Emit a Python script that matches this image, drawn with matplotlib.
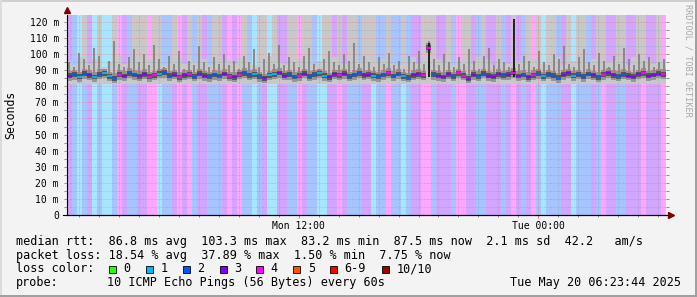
import matplotlib
matplotlib.use('Agg')
import matplotlib.pyplot as plt
from matplotlib.patches import Rectangle
from matplotlib.colors import to_rgb

plt.rcParams['font.family'] = ['DejaVu Sans Mono']

# time axis in hours since Mon 00:00, graph covers Mon 00:23:44 .. Tue 06:23:44
start_hour = 0.3956
step_hours = 0.25

# lost pings (out of 10) for each 15 min step
loss = [3, 2, 1, 2, 3, 1, 2, 1, 1, 2, 4, 3, 2, 2, 3, 3, 4, 4, 1, 2, 2, 3, 4, 3, 4, 2, 3, 3, 2, 2,
        2, 3, 4, 3, 4, 2, 2, 1, 2, 3, 1, 1, 3, 3, 2, 2, 4, 3, 2, 2, 1, 1, 3, 3, 4, 3, 2, 2, 2, 3,
        3, 1, 2, 2, 4, 2, 2, 1, 2, 3, 3, 4, 4, 2, 3, 3, 3, 2, 4, 4, 3, 3, 2, 2, 3, 3, 3, 2, 3, 4,
        3, 2, 3, 4, 2, 1, 2, 2, 2, 3, 3, 1, 2, 2, 2, 3, 2, 4, 3, 3, 2, 2, 3, 3, 3, 4, 3, 3, 3, 4]

# median rtt in ms
median_ms = [86.5, 87.2, 86.0, 87.8, 86.9, 85.8, 87.5, 88.0, 86.2, 85.0, 87.1, 86.4, 88.2, 87.0, 86.3,
             87.6, 85.9, 86.8, 87.9, 88.4, 86.6, 87.3, 85.7, 86.9, 87.4, 86.1, 87.8, 86.5, 85.9, 87.0,
             86.4, 87.7, 86.2, 85.6, 87.3, 88.1, 86.9, 87.5, 86.0, 84.9, 86.8, 87.6, 88.3, 86.7, 87.1,
             85.8, 86.5, 87.9, 86.3, 87.2, 88.0, 86.6, 85.5, 87.4, 86.9, 87.8, 86.1, 87.0, 88.2, 86.8,
             87.3, 86.5, 85.9, 87.0, 88.1, 86.4, 87.7, 86.2, 85.4, 86.9, 87.5, 86.8, 104.0, 87.2, 86.6,
             85.8, 87.4, 86.1, 88.0, 86.7, 84.8, 87.1, 86.3, 87.9, 86.5, 85.9, 87.6, 86.8, 87.2, 88.3,
             86.4, 87.0, 85.7, 86.9, 87.8, 86.2, 87.4, 86.6, 85.3, 87.1, 88.0, 86.5, 87.3, 86.0, 87.7,
             86.8, 85.6, 87.2, 88.1, 86.9, 86.3, 87.5, 86.7, 85.9, 87.4, 88.2, 86.6, 87.0, 87.9, 87.5]

# top of the light smoke (125 = beyond the graph top)
smoke_top = [96, 93, 98, 125, 94, 97, 125, 92, 95, 125, 99, 94, 96, 125, 125, 125, 97, 125, 125, 93,
             96, 125, 98, 94, 125, 95, 125, 97, 93, 125, 125, 95, 97, 94, 98, 125, 96, 93, 125, 125,
             99, 125, 95, 94, 125, 125, 97, 125, 125, 93, 96, 125, 125, 98, 125, 94, 125, 125, 96, 125,
             125, 125, 95, 97, 125, 94, 93, 125, 96, 98, 94, 125, 125, 125, 97, 95, 125, 93, 96, 125,
             125, 94, 98, 125, 97, 93, 125, 96, 94, 125, 96, 95, 125, 97, 125, 94, 125, 125, 98, 93,
             125, 96, 125, 125, 94, 97, 125, 125, 95, 96, 125, 125, 93, 98, 125, 125, 97, 94, 125, 96]

# top of the darker smoke spikes
spike_top = [95, 92, 101, 97, 93, 104, 99, 91, 96, 108, 94, 92, 98, 103, 95, 100, 93, 106, 97, 92,
             99, 94, 102, 91, 96, 93, 105, 95, 92, 98, 94, 100, 93, 96, 91, 99, 95, 103, 92, 97,
             101, 94, 106, 93, 98, 95, 92, 99, 104, 94, 91, 97, 102, 95, 93, 100, 96, 107, 94, 99,
             95, 92, 98, 94, 101, 93, 96, 91, 99, 95, 102, 94, 108, 97, 93, 100, 95, 92, 98, 94,
             103, 96, 91, 99, 104, 93, 97, 95, 92, 100, 94, 99, 96, 92, 102, 95, 93, 100, 97, 105,
             94, 92, 98, 103, 95, 93, 101, 96, 92, 99, 94, 104, 97, 93, 100, 96, 98, 92, 95, 97]

dark_spikes = {72: 107, 89: 122}
smoke_bottom = 81.5

loss_labels = ['0', '1', '2', '3', '4', '5', '6-9', '10/10']
loss_colors = ['#26ff00', '#00b8ff', '#0059ff', '#7e00ff', '#ff00ff', '#ff5500', '#ff0000', '#a10000']
y_ticks = list(range(0, 121, 10))
y_tick_labels = ['0' if v == 0 else '%d m' % v for v in y_ticks]
x_ticks = [12, 24]
x_tick_labels = ['Mon 12:00', 'Tue 00:00']

stats_rtt = 'median rtt:  86.8 ms avg  103.3 ms max  83.2 ms min  87.5 ms now  2.1 ms sd  42.2   am/s'
stats_loss = 'packet loss: 18.54 % avg  37.89 % max  1.50 % min  7.75 % now'
probe_text = '10 ICMP Echo Pings (56 Bytes) every 60s'
stamp_text = 'Tue May 20 06:23:44 2025'


def pale(c, a=0.35):
    r, g, b = to_rgb(c)
    return (1 - a + a * r, 1 - a + a * g, 1 - a + a * b)


W, H = 697, 297
fig = plt.figure(figsize=(W / 100, H / 100), dpi=100, facecolor='#f3f3f3')
ax = fig.add_axes([67 / W, 82 / H, 599 / W, 200 / H])
ymax = 124.35
x_end = start_hour + step_hours * len(loss)

n = len(loss)
xs = [start_hour + i * step_hours for i in range(n)]

# loss background
ax.bar(xs, [ymax] * n, width=step_hours, align='edge',
       color=[pale(loss_colors[l]) for l in loss], linewidth=0, zorder=1)
# smoke
ax.bar(xs, [t - smoke_bottom for t in smoke_top], bottom=smoke_bottom, width=step_hours,
       align='edge', color='#c8c8c8', linewidth=0, zorder=2)
ax.bar(xs, [6.0] * n, bottom=[m - 3.0 for m in median_ms], width=step_hours,
       align='edge', color='#969696', linewidth=0, zorder=3)
ax.bar([x + step_hours / 2 for x in xs], [s - m for s, m in zip(spike_top, median_ms)],
       bottom=median_ms, width=step_hours * 0.4, color='#8a8a8a', linewidth=0, zorder=3)
ax.bar(xs, [3.0] * n, bottom=[m - 1.5 for m in median_ms], width=step_hours,
       align='edge', color='#555555', linewidth=0, zorder=4)
for i, top in dark_spikes.items():
    ax.bar(xs[i] + step_hours / 2, top - 86.0, bottom=86.0, width=step_hours * 0.35,
           color='#222222', linewidth=0, zorder=4)
# median
ax.hlines(median_ms, xs, [x + step_hours for x in xs],
          colors=[loss_colors[l] for l in loss], linewidth=1.3, zorder=5)

# grid
for v in range(5, 125, 5):
    c = (1, 0.3, 0.3, 0.55) if v % 10 == 0 else (0.5, 0.5, 0.5, 0.45)
    ax.axhline(v, color=c, linewidth=0.72, dashes=(1, 2), zorder=6)
for h in range(1, 31):
    c = (1, 0.3, 0.3, 0.6) if h % 12 == 0 else (0.5, 0.5, 0.5, 0.45)
    ax.axvline(h, color=c, linewidth=0.72, dashes=(1, 2), zorder=6)

ax.set_xlim(start_hour, x_end)
ax.set_ylim(0, ymax)
ax.set_yticks(y_ticks)
ax.set_yticklabels(y_tick_labels)
ax.set_yticks(list(range(5, 125, 10)), minor=True)
ax.set_xticks(x_ticks)
ax.set_xticklabels(x_tick_labels)
ax.set_xticks(list(range(1, 31)), minor=True)
ax.tick_params(axis='y', which='both', left=True, right=True, direction='out', length=2.2,
               width=0.72, color='#909090', labelsize=7, pad=3.6)
ax.tick_params(axis='x', which='minor', direction='out', length=1.5, width=0.72, color='#909090')
ax.tick_params(axis='x', which='major', direction='out', length=2.2, width=0.72,
               color='#ff6060', labelsize=7, pad=2.0)
for s in ['top', 'right']:
    ax.spines[s].set_visible(False)
for s in ['left', 'bottom']:
    ax.spines[s].set_linewidth(0.8)
    ax.spines[s].set_color('black')
    ax.spines[s].set_zorder(7)
ax.plot([-4 / 599, 1 + 3 / 599], [0, 0], transform=ax.transAxes, color='black',
        linewidth=0.8, clip_on=False, zorder=7)
ax.plot([1 + 5 / 599], [0], marker='>', markersize=4.5, color='#800000',
        transform=ax.transAxes, clip_on=False, zorder=8)
ax.plot([0], [1 + 5 / 200], marker='^', markersize=4.5, color='#800000',
        transform=ax.transAxes, clip_on=False, zorder=8)

fig.text(11 / W, 1 - 115 / H, 'Seconds', rotation=90, ha='center', va='center', fontsize=8.3)
fig.text(688 / W, 1 - 60 / H, 'RRDTOOL / TOBI OETIKER', rotation=270, ha='center', va='center',
         fontsize=6.1, color='#a8a8a8')

# legend
fs = 8.5
fig.text(16 / W, 1 - 241.5 / H, stats_rtt, ha='left', va='center', fontsize=fs)
fig.text(16 / W, 1 - 255.3 / H, stats_loss, ha='left', va='center', fontsize=fs)
fig.text(16 / W, 1 - 269 / H, 'loss color:', ha='left', va='center', fontsize=fs)
box_x = [108.7, 145.7, 182.7, 219.5, 256.3, 293.3, 330.2, 381.7]
for bx, col, lab in zip(box_x, loss_colors, loss_labels):
    fig.patches.append(Rectangle((bx / W, 1 - 272.8 / H), 7 / W, 7 / H, transform=fig.transFigure,
                                 facecolor=col, edgecolor='black', linewidth=0.6))
    fig.text((bx + 14.5) / W, 1 - 269 / H, lab, ha='left', va='center', fontsize=fs)
fig.text(16 / W, 1 - 282.8 / H, 'probe:', ha='left', va='center', fontsize=fs)
fig.text(107 / W, 1 - 282.8 / H, probe_text, ha='left', va='center', fontsize=fs)
fig.text(681 / W, 1 - 282.8 / H, stamp_text, ha='right', va='center', fontsize=fs)

# frame of the image
fig.patches.append(Rectangle((0, 1 - 2 / H), 1, 2 / H, transform=fig.transFigure,
                             facecolor='#cfcfcf', linewidth=0))
fig.patches.append(Rectangle((0, 0), 2 / W, 1, transform=fig.transFigure,
                             facecolor='#dcdcdc', linewidth=0))
fig.patches.append(Rectangle((0, 0), 1, 2 / H, transform=fig.transFigure,
                             facecolor='#a0a0a0', linewidth=0))
fig.patches.append(Rectangle((1 - 2 / W, 0), 2 / W, 1, transform=fig.transFigure,
                             facecolor='#a0a0a0', linewidth=0))

fig.savefig('out.png', dpi=100, facecolor=fig.get_facecolor())
plt.close(fig)
